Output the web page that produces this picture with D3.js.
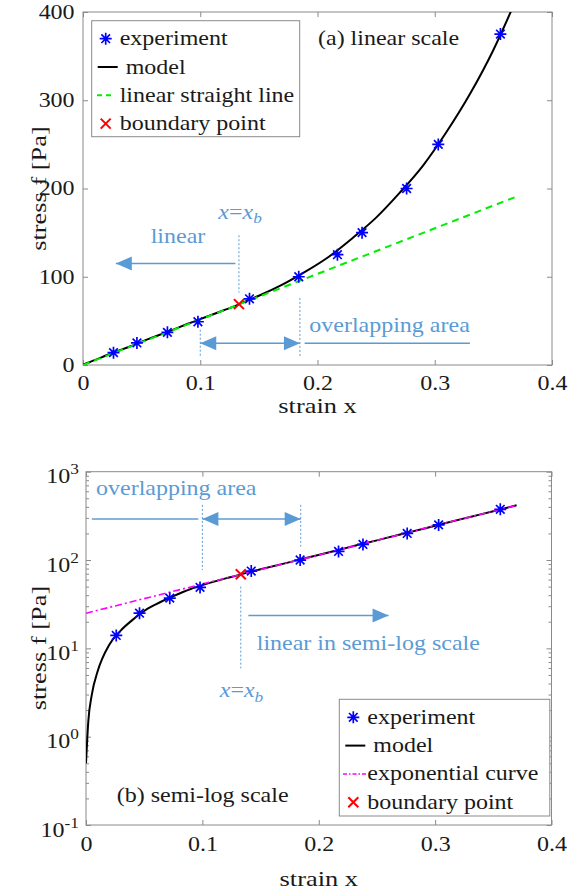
<!DOCTYPE html>
<html>
<head>
<meta charset="utf-8">
<script src="https://cdn.jsdelivr.net/npm/d3@7"></script>
<style>
  html, body { margin: 0; padding: 0; background: #fff; }
  svg { display: block; font-family: "Liberation Serif", "Times New Roman", serif; }
</style>
</head>
<body>
<svg id="chart" width="569" height="894"></svg>
<script>
/* stress-strain: linear vs semi-log view of the same data */

// experiment points
const strainExp = [0.026, 0.046, 0.072, 0.098, 0.142, 0.184, 0.217, 0.238, 0.276, 0.303, 0.356];
const stressExp = [14, 25, 37, 49, 75, 100, 125, 150, 200, 250, 375];

// model curve
const strainModel = [0, 0.002, 0.005, 0.01, 0.02, 0.03, 0.04, 0.05, 0.06, 0.075, 0.09, 0.1, 0.11, 0.12,
  0.13, 0.14, 0.15, 0.17, 0.19, 0.21, 0.23, 0.25, 0.27, 0.29, 0.31, 0.33, 0.35, 0.37];
const stressModel = [0.5, 1.5, 3, 5.5, 11, 16, 21, 26.5, 31.5, 39, 47, 52, 57, 62,
  67, 73, 78.5, 91, 106, 123, 144, 167, 195, 226, 264, 307, 357, 416];

// green dashed straight line (top) and magenta exponential curve (bottom)
const strainLin = [0, 0.37];
const stressLin = [0, 191];
const strainExpo = [0, 0.1, 0.2, 0.3, 0.37];
const stressExpo = [25, 53.5, 114, 245, 416];

// boundary point x_b
const strainB = [0.133];
const stressB = [69];

// ticks
const xTicks = [0, 0.1, 0.2, 0.3, 0.4];
const yTicksLin = [0, 100, 200, 300, 400];
const yTicksLog = [0.1, 1, 10, 100, 1000];

const legendTop = ["experiment", "model", "linear straight line", "boundary point"];
const legendBot = ["experiment", "model", "exponential curve", "boundary point"];

const INK = "#1a1a1a", AX = "#8a8a8a", NOTE = "#5b9bd5";
const FS = 20, SX = 1.2;   // glyphs in the figure are a bit wide

const svg = d3.select("#chart");

function zip(xs, ys) { return xs.map((x, i) => [x, ys[i]]); }

function label(g, x, y, str, o = {}) {
  const t = g.append("text")
    .attr("transform", `translate(${x},${y})` + (o.rotate ? ` rotate(${o.rotate})` : "") + ` scale(${SX},1)`)
    .attr("font-size", o.size || FS)
    .attr("text-anchor", o.anchor || "start")
    .attr("fill", o.color || INK);
  if (o.italic) t.attr("font-style", "italic");
  if (str != null) t.text(str);
  return t;
}

function xbLabel(g, x, y) {
  const t = label(g, x, y, null, { anchor: "middle", color: NOTE });
  t.append("tspan").attr("font-style", "italic").text("x");
  t.append("tspan").text("=");
  t.append("tspan").attr("font-style", "italic").text("x");
  t.append("tspan").attr("font-style", "italic").attr("font-size", "0.72em").attr("dy", "0.3em").text("b");
}

const starPath = "M-6,0H6M0,-6V6M-4.3,-4.3L4.3,4.3M-4.3,4.3L4.3,-4.3";
const crossPath = "M-5,-5L5,5M-5,5L5,-5";

function stars(g, pts) {
  g.selectAll(null).data(pts).join("path")
    .attr("transform", d => `translate(${d[0]},${d[1]})`)
    .attr("d", starPath).attr("stroke", "#0000ff").attr("stroke-width", 1.7).attr("fill", "none");
}
function crosses(g, pts) {
  g.selectAll(null).data(pts).join("path")
    .attr("transform", d => `translate(${d[0]},${d[1]})`)
    .attr("d", crossPath).attr("stroke", "#ff0000").attr("stroke-width", 2).attr("fill", "none");
}

function arrowHead(g, x, y, dir) {   // dir: +1 points right, -1 points left
  const L = 16, H = 7;
  g.append("path").attr("d", `M${x},${y}L${x - dir * L},${y - H}L${x - dir * L},${y + H}Z`).attr("fill", NOTE);
}
function hArrow(g, xa, xb, y, both) {
  g.append("line").attr("x1", xa).attr("x2", xb).attr("y1", y).attr("y2", y)
    .attr("stroke", NOTE).attr("stroke-width", 1.5);
  arrowHead(g, xb, y, xb > xa ? 1 : -1);
  if (both) arrowHead(g, xa, y, xa > xb ? 1 : -1);
}
function vDash(g, x, ya, yb) {
  g.append("line").attr("x1", x).attr("x2", x).attr("y1", ya).attr("y2", yb)
    .attr("stroke", NOTE).attr("stroke-width", 1).attr("stroke-dasharray", "2,2");
}

function styleAxis(sel) {
  sel.select(".domain").remove();
  sel.selectAll(".tick line").attr("stroke", AX);
  sel.attr("font-family", null).attr("font-size", FS);
  sel.selectAll(".tick text").attr("fill", INK).attr("transform", `scale(${SX},1)`);
}

function frame(g, x, y, log) {
  const [x0, x1] = x.range(), [y0, y1] = y.range();
  g.append("g").attr("transform", `translate(0,${y0})`)
    .call(d3.axisBottom(x).tickValues(xTicks).tickSizeInner(-5).tickSizeOuter(0).tickPadding(log ? 12 : 11)
      .tickFormat(d => String(d))).call(styleAxis);
  g.append("g").attr("transform", `translate(0,${y1})`)
    .call(d3.axisTop(x).tickValues(xTicks).tickSizeInner(-5).tickSizeOuter(0).tickFormat("")).call(styleAxis);
  const left = g.append("g").attr("transform", `translate(${x0},0)`);
  const right = g.append("g").attr("transform", `translate(${x1},0)`);
  if (!log) {
    left.call(d3.axisLeft(y).tickValues(yTicksLin).tickSizeInner(-5).tickSizeOuter(0).tickPadding(7)).call(styleAxis);
    right.call(d3.axisRight(y).tickValues(yTicksLin).tickSizeInner(-5).tickSizeOuter(0).tickFormat("")).call(styleAxis);
  } else {
    const minor = [];
    yTicksLog.slice(0, -1).forEach(b => { for (let k = 2; k <= 9; k++) minor.push(b * k); });
    left.call(d3.axisLeft(y).tickValues(yTicksLog).tickSizeInner(-5).tickSizeOuter(0).tickPadding(6)).call(styleAxis);
    left.selectAll(".tick text").attr("dy", "0.55em").each(function (d) {
      const t = d3.select(this).text(null);
      t.append("tspan").text("10");
      t.append("tspan").attr("dy", "-0.62em").attr("font-size", "0.72em").text(Math.round(Math.log10(d)));
    });
    right.call(d3.axisRight(y).tickValues(yTicksLog).tickSizeInner(-5).tickSizeOuter(0).tickFormat("")).call(styleAxis);
    g.append("g").attr("transform", `translate(${x0},0)`)
      .call(d3.axisLeft(y).tickValues(minor).tickSizeInner(-3).tickSizeOuter(0).tickFormat("")).call(styleAxis);
    g.append("g").attr("transform", `translate(${x1},0)`)
      .call(d3.axisRight(y).tickValues(minor).tickSizeInner(-3).tickSizeOuter(0).tickFormat("")).call(styleAxis);
  }
  g.append("rect").attr("x", x0).attr("y", y1).attr("width", x1 - x0).attr("height", y0 - y1)
    .attr("fill", "none").attr("stroke", AX).attr("stroke-width", 1);
}

function legend(g, x0, y0, w, h, rows, third) {
  g.append("rect").attr("x", x0).attr("y", y0).attr("width", w).attr("height", h)
    .attr("fill", "#fff").attr("stroke", AX).attr("stroke-width", 1);
  const base = y0 + 24.5, step = 28.3, tx = x0 + 28;
  rows.forEach((r, i) => {
    const by = base + i * step, cy = by - 6.5;
    label(g, tx + (i === 1 ? 6 : 0), by, r);
    if (i === 0) stars(g, [[x0 + 14, cy]]);
    if (i === 1) g.append("line").attr("x1", x0 + 6).attr("x2", x0 + 26).attr("y1", cy).attr("y2", cy)
      .attr("stroke", "#000").attr("stroke-width", 2);
    if (i === 2) third(g, cy);
    if (i === 3) crosses(g, [[x0 + 14, cy]]);
  });
}

/* ---------------- (a) linear scale ---------------- */
{
  const x = d3.scaleLinear().domain([0, 0.4]).range([83, 552]);
  const y = d3.scaleLinear().domain([0, 400]).range([365, 12]);
  const g = svg.append("g");
  g.append("clipPath").attr("id", "clipA").append("rect")
    .attr("x", 83).attr("y", 12).attr("width", 469).attr("height", 353);

  frame(g, x, y, false);

  const line = d3.line().x(d => x(d[0])).y(d => y(d[1])).curve(d3.curveMonotoneX);
  const plot = g.append("g").attr("clip-path", "url(#clipA)");
  plot.append("path").attr("d", line(zip(strainModel, stressModel)))
    .attr("fill", "none").attr("stroke", "#000").attr("stroke-width", 2);
  plot.append("path").attr("d", line(zip(strainLin, stressLin)))
    .attr("fill", "none").attr("stroke", "#00ee00").attr("stroke-width", 2).attr("stroke-dasharray", "7,5");
  stars(plot, zip(strainExp, stressExp).map(d => [x(d[0]), y(d[1])]));
  crosses(plot, zip(strainB, stressB).map(d => [x(d[0]), y(d[1])]));

  // annotations
  const n = g.append("g");
  vDash(n, x(strainB[0]), y(147), y(82));
  xbLabel(n, x(0.134), y(166));
  label(n, x(0.081), y(138), "linear", { anchor: "middle", color: NOTE });
  hArrow(n, x(0.13), x(0.028), y(115), false);
  vDash(n, x(0.1), y(40), y(9));
  vDash(n, x(0.185), y(76), y(9));
  hArrow(n, x(0.1), x(0.185), y(24.6), true);
  n.append("line").attr("x1", x(0.189)).attr("x2", x(0.33)).attr("y1", y(24.6)).attr("y2", y(24.6))
    .attr("stroke", NOTE).attr("stroke-width", 1.5);
  label(n, x(0.193), y(37.7), "overlapping area", { color: NOTE });

  label(g, 318, 45, "(a) linear scale");
  legend(g, 91.7, 20.7, 208, 116, legendTop, (lg, cy) =>
    lg.append("line").attr("x1", 97).attr("x2", 114).attr("y1", cy).attr("y2", cy)
      .attr("stroke", "#00ee00").attr("stroke-width", 2).attr("stroke-dasharray", "5,4"));

  label(g, 317.5, 413, "strain x", { anchor: "middle", size: 22 });
  label(g, 46, 188.5, "stress f [Pa]", { anchor: "middle", size: 22, rotate: -90 });
}

/* ---------------- (b) semi-log scale ---------------- */
{
  const x = d3.scaleLinear().domain([0, 0.4]).range([86, 551.5]);
  const y = d3.scaleLog().domain([0.1, 1000]).range([825, 471.7]);
  const g = svg.append("g");
  g.append("clipPath").attr("id", "clipB").append("rect")
    .attr("x", 86).attr("y", 471.7).attr("width", 465.5).attr("height", 353.3);

  frame(g, x, y, true);

  const line = d3.line().x(d => x(d[0])).y(d => y(d[1])).curve(d3.curveMonotoneX);
  const plot = g.append("g").attr("clip-path", "url(#clipB)");
  plot.append("path").attr("d", line(zip(strainModel, stressModel)))
    .attr("fill", "none").attr("stroke", "#000").attr("stroke-width", 2);
  plot.append("path").attr("d", d3.line().x(d => x(d[0])).y(d => y(d[1]))(zip(strainExpo, stressExpo)))
    .attr("fill", "none").attr("stroke", "#ff00ff").attr("stroke-width", 1.6).attr("stroke-dasharray", "7,3,2,3");
  stars(plot, zip(strainExp, stressExp).map(d => [x(d[0]), y(d[1])]));
  crosses(plot, zip(strainB, stressB).map(d => [x(d[0]), y(d[1])]));

  const n = g.append("g");
  label(n, x(0.0086), y(546), "overlapping area", { color: NOTE });
  n.append("line").attr("x1", x(0.005)).attr("x2", x(0.0965)).attr("y1", y(292)).attr("y2", y(292))
    .attr("stroke", NOTE).attr("stroke-width", 1.5);
  vDash(n, x(0.1), y(421), y(77));
  vDash(n, x(0.1845), y(421), y(142));
  hArrow(n, x(0.1), x(0.1845), y(292), true);
  vDash(n, x(strainB[0]), y(50), y(5.95));
  hArrow(n, x(0.1395), x(0.26), y(23.5), false);
  label(n, x(0.1467), y(9.6), "linear in semi-log scale", { color: NOTE });
  xbLabel(n, x(0.1336), y(2.8));

  label(g, 116.7, 801.7, "(b) semi-log scale");
  legend(g, 339.3, 699.3, 210.5, 116.7, legendBot, (lg, cy) =>
    lg.append("line").attr("x1", 343).attr("x2", 366).attr("y1", cy).attr("y2", cy)
      .attr("stroke", "#ff00ff").attr("stroke-width", 1.5).attr("stroke-dasharray", "4,2,1.5,2"));

  label(g, 318.75, 886, "strain x", { anchor: "middle", size: 22 });
  label(g, 46, 648, "stress f [Pa]", { anchor: "middle", size: 22, rotate: -90 });
}
</script>
</body>
</html>
